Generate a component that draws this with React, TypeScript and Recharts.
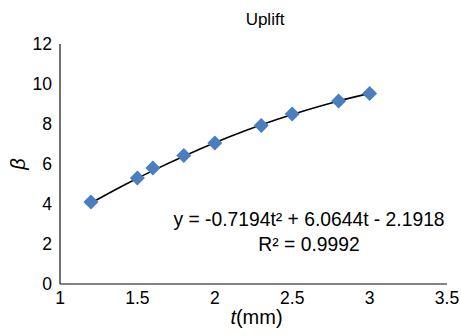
import React from "react";
import {
  ComposedChart,
  Scatter,
  Line,
  XAxis,
  YAxis,
} from "recharts";

// measured points
const tValues = [1.2, 1.5, 1.6, 1.8, 2.0, 2.3, 2.5, 2.8, 3.0];
const betaValues = [4.1, 5.3, 5.8, 6.42, 7.05, 7.93, 8.5, 9.15, 9.53];

// polynomial trendline
const trendT = [1.2, 1.4, 1.6, 1.8, 2.0, 2.2, 2.4, 2.6, 2.8, 3.0];
const trendBeta = [4.05, 4.89, 5.67, 6.39, 7.06, 7.67, 8.22, 8.71, 9.15, 9.53];

const xTicks = [1, 1.5, 2, 2.5, 3, 3.5];
const yTicks = [0, 2, 4, 6, 8, 10, 12];

const title = "Uplift";
const equation = "y = -0.7194t² + 6.0644t - 2.1918";
const rSquared = "R² = 0.9992";

const points = tValues.map((t, i) => ({ x: t, y: betaValues[i] }));
const trend = trendT.map((t, i) => ({ x: t, y: trendBeta[i] }));

const FONT = "'Liberation Sans', Arial, sans-serif";

const Diamond = (props: any) => {
  const { cx, cy } = props;
  const r = 7.5;
  return (
    <polygon
      points={`${cx},${cy - r} ${cx + r},${cy} ${cx},${cy + r} ${cx - r},${cy}`}
      fill="#4a7ebf"
    />
  );
};

const XLabel = (props: any) => {
  const { viewBox } = props;
  const cx = viewBox.x + viewBox.width / 2 + 3;
  return (
    <text x={cx} y={324} textAnchor="middle" fontSize={20} fontFamily={FONT} fill="#000">
      <tspan fontStyle="italic">t</tspan>
      <tspan>(mm)</tspan>
    </text>
  );
};

const YLabel = () => (
  <text
    x={0}
    y={0}
    transform="translate(25,164) rotate(-90)"
    textAnchor="middle"
    fontSize={20}
    fontStyle="italic"
    fontFamily={FONT}
    fill="#000"
  >
    β
  </text>
);

export default function App() {
  return (
    <div style={{ position: "absolute", left: 0, top: 0, width: 461, height: 336, background: "#fff" }}>
      <ComposedChart
        width={461}
        height={336}
        margin={{ top: 44, right: 14, bottom: 22, left: 0 }}
      >
        <XAxis
          dataKey="x"
          type="number"
          domain={[1, 3.5]}
          ticks={xTicks}
          tickLine={false}
          axisLine={{ stroke: "#595959", strokeWidth: 1.3 }}
          tick={{ fontSize: 17.5, fill: "#000", fontFamily: FONT }}
          height={30}
          allowDataOverflow
          label={<XLabel />}
        />
        <YAxis
          type="number"
          domain={[0, 12]}
          ticks={yTicks}
          tickLine={false}
          axisLine={{ stroke: "#262626", strokeWidth: 1.3 }}
          tick={{ fontSize: 17.5, fill: "#000", fontFamily: FONT }}
          width={60}
          label={<YLabel />}
        />
        <Scatter
          data={points}
          dataKey="y"
          shape={<Diamond />}
          isAnimationActive={false}
        />
        <Line
          data={trend}
          dataKey="y"
          type="monotone"
          stroke="#000"
          strokeWidth={1.6}
          dot={false}
          activeDot={false}
          isAnimationActive={false}
        />
      </ComposedChart>
      <div
        style={{
          position: "absolute",
          left: 265,
          top: 10,
          transform: "translateX(-50%)",
          fontFamily: FONT,
          fontSize: 17,
          whiteSpace: "nowrap",
        }}
      >
        {title}
      </div>
      <div
        style={{
          position: "absolute",
          left: 309,
          top: 207,
          transform: "translateX(-50%)",
          fontFamily: FONT,
          fontSize: 19.3,
          lineHeight: "25px",
          textAlign: "center",
          whiteSpace: "nowrap",
        }}
      >
        <div>{equation}</div>
        <div>{rSquared}</div>
      </div>
    </div>
  );
}
